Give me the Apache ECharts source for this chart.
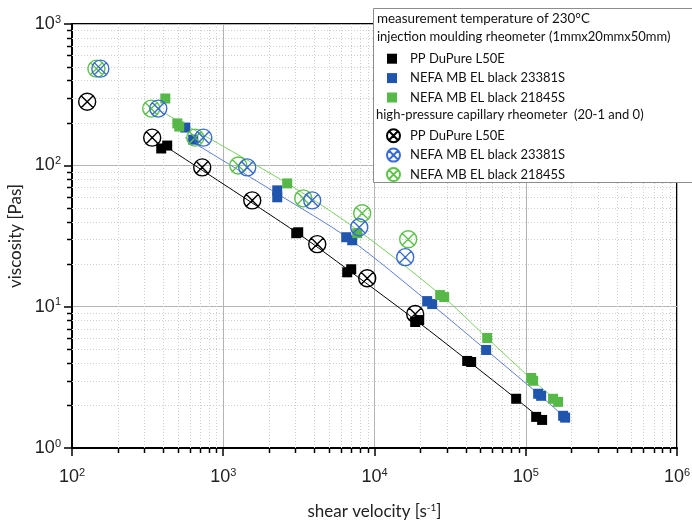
<!DOCTYPE html>
<html>
<head>
<meta charset="utf-8">
<script src="https://cdn.jsdelivr.net/npm/echarts@6/dist/echarts.min.js"></script>
<style>
html, body { margin: 0; padding: 0; background: #fff; }
#chart { width: 692px; height: 523px; }
</style>
</head>
<body>
<div id="chart"></div>
<script>
// ---------------------------------------------------------------- data
// injection moulding rheometer (squares): [shear velocity, viscosity]
var imPP = [[389, 131.6], [426, 138], [3037, 33.1], [3131, 33.6], [6600, 17.5], [7015, 18.4],
    [18580, 7.79], [19750, 8.04], [41000, 4.13], [43560, 4.06], [86430, 2.23], [117200, 1.66], [128300, 1.58]];
var imBlue = [[561, 185], [633, 152], [2275, 66.5], [2275, 59.4], [6501, 31.0], [7122, 29.5],
    [22300, 10.95], [24060, 10.43], [54710, 4.94], [120800, 2.42], [126400, 2.34], [176700, 1.69], [182100, 1.64]];
var imGreen = [[414, 297], [497, 198], [512, 188], [2648, 74.5], [7688, 33.1], [27180, 12.08],
    [28880, 11.69], [55590, 6.00], [108600, 3.13], [111900, 2.99], [151700, 2.23], [163700, 2.12]];

// high-pressure capillary rheometer (crossed circles)
var hpPP = [[126, 282], [339, 157], [726, 96.7], [1555, 56.5], [4182, 27.7], [8950, 15.9], [18580, 8.87]];
var hpBlue = [[154, 483], [372, 252], [738, 157], [1441, 96.7], [3874, 56.5], [7925, 36.5], [15960, 22.4]];
var hpGreen = [[145, 483], [334, 252], [653, 157], [1257, 99.8], [3379, 58.4], [8291, 45.8], [16700, 30.0]];

// fit curves
var fitPP = [[426, 133.8], [3080, 33.3], [6800, 18.0], [19100, 7.9], [42000, 4.1], [86400, 2.23], [128300, 1.58]];
var fitBlue = [[561, 157], [2275, 63], [6800, 30.2], [23000, 10.7], [54700, 4.94], [123000, 2.38], [182100, 1.64]];
var fitGreen = [[414, 232], [2648, 74.5], [7688, 35], [28000, 11.9], [55590, 6.0], [110000, 3.05], [163700, 2.12]];

var seriesNames = ['PP DuPure L50E', 'NEFA MB EL black 23381S', 'NEFA MB EL black 21845S'];
var headings = ['measurement temperature of 230°C', 'injection moulding rheometer (1mmx20mmx50mm)',
    'high-pressure capillary rheometer  (20-1 and 0)'];

// minor grid positions (2..9 per decade)
var minorMult = [2, 3, 4, 5, 6, 7, 8, 9];
var xDecades = [100, 1000, 10000, 100000];
var yDecades = [1, 10, 100];

// ---------------------------------------------------------------- style
var cBlack = '#000000';
var cBlueSq = '#1f55ad';
var cGreenSq = '#56b947';
var cBlueCr = '#3a6bd4';
var cGreenCr = '#5dc24a';
var cBlueFit = '#5c7fd6';
var cGreenFit = '#7dd063';
var crossPath = 'path://M10,1 A9,9 0 1,1 9.99,1 Z M3.6,3.6 L16.4,16.4 M16.4,3.6 L3.6,16.4';
var labelFont = 'Liberation Sans';
var textFont = 'Lato';

var xMinor = [];
xDecades.forEach(function (d) { minorMult.forEach(function (m) { xMinor.push([d * m, 1]); }); });
var yMinor = [];
yDecades.forEach(function (d) { minorMult.forEach(function (m) { yMinor.push([100, d * m]); }); });

function supLabel(v) {
    return '10{sup|' + Math.round(Math.log10(v)) + '}';
}

function minorX(params, api) {
    var cs = params.coordSys;
    var x = Math.round(api.coord([api.value(0), 1])[0]) + 0.5;
    var bottom = cs.y + cs.height;
    return {
        type: 'group',
        children: [
            { type: 'line', shape: { x1: x, y1: cs.y, x2: x, y2: bottom },
              style: { stroke: '#cfcfcf', lineWidth: 1, lineDash: [1, 2] } },
            { type: 'line', shape: { x1: x, y1: bottom, x2: x, y2: bottom + 5 },
              style: { stroke: '#000', lineWidth: 1.5 } }
        ]
    };
}

function minorY(params, api) {
    var cs = params.coordSys;
    var y = Math.round(api.coord([100, api.value(1)])[1]) + 0.5;
    return {
        type: 'group',
        children: [
            { type: 'line', shape: { x1: cs.x, y1: y, x2: cs.x + cs.width, y2: y },
              style: { stroke: '#cfcfcf', lineWidth: 1, lineDash: [1, 2] } },
            { type: 'line', shape: { x1: cs.x - 5, y1: y, x2: cs.x, y2: y },
              style: { stroke: '#000', lineWidth: 1.5 } }
        ]
    };
}

function squares(name, data, color) {
    return {
        name: 'im:' + name, type: 'scatter', data: data, symbol: 'rect', symbolSize: 10,
        itemStyle: { color: color, opacity: 1 }, z: 4
    };
}

function crossed(name, data, color, z) {
    return {
        name: 'hp:' + name, type: 'scatter', data: data, symbol: crossPath, symbolSize: 17,
        itemStyle: { color: 'rgba(0,0,0,0)', borderColor: color, borderWidth: 1.4, opacity: 1 }, z: z
    };
}

function fit(data, color) {
    return {
        type: 'line', data: data, smooth: 0.3, symbol: 'none', silent: true,
        lineStyle: { color: color, width: 1 }, z: 3
    };
}

// ---------------------------------------------------------------- chart
var chart = echarts.init(document.getElementById('chart'));

var option = {
    backgroundColor: '#fff',
    animation: false,
    grid: {
        left: 72, right: 15, top: 24, bottom: 75, show: true, borderColor: '#000', borderWidth: 2,
        containLabel: false, outerBoundsMode: 'none'
    },
    xAxis: {
        type: 'log', logBase: 10, min: 100, max: 1000000,
        name: 'shear velocity [s{sup|-1}]', nameLocation: 'middle', nameGap: 55,
        nameTextStyle: { fontFamily: textFont, fontSize: 17, color: '#222',
            rich: { sup: { fontFamily: textFont, fontSize: 10, verticalAlign: 'top', padding: [0, 0, 8, 0] } } },
        axisLine: { lineStyle: { color: '#000', width: 2 } },
        axisTick: { show: true, length: 8, lineStyle: { color: '#000', width: 1.5 } },
        axisLabel: {
            margin: 19, color: '#222', fontFamily: labelFont, fontSize: 18, formatter: supLabel,
            rich: { sup: { fontFamily: labelFont, fontSize: 11, verticalAlign: 'top', padding: [0, 0, 9, 0] } }
        },
        splitLine: { show: true, lineStyle: { color: '#b4b4b4', width: 1 } }
    },
    yAxis: {
        type: 'log', logBase: 10, min: 1, max: 1000,
        name: 'viscosity [Pas]', nameLocation: 'middle', nameGap: 46,
        nameTextStyle: { fontFamily: textFont, fontSize: 17, color: '#222' },
        axisLine: { lineStyle: { color: '#000', width: 2 } },
        axisTick: { show: true, length: 8, lineStyle: { color: '#000', width: 1.5 } },
        axisLabel: {
            margin: 11, color: '#222', fontFamily: labelFont, fontSize: 18, formatter: supLabel,
            rich: { sup: { fontFamily: labelFont, fontSize: 11, verticalAlign: 'top', padding: [0, 0, 9, 0] } }
        },
        splitLine: { show: true, lineStyle: { color: '#b4b4b4', width: 1 } }
    },
    legend: [{
        orient: 'vertical', left: 387, top: 49, padding: 0, itemGap: 0,
        itemWidth: 10, itemHeight: 10, selectedMode: false,
        data: seriesNames.map(function (n) { return 'im:' + n; }),
        formatter: function (n) { return n.split(':')[1]; },
        textStyle: { fontFamily: textFont, fontSize: 13, color: '#111', lineHeight: 19.4, padding: [0, 0, 0, 8] },
        z: 6
    }, {
        orient: 'vertical', left: 386, top: 126, padding: 0, itemGap: 0,
        itemWidth: 13, itemHeight: 13, selectedMode: false,
        data: seriesNames.map(function (n) { return 'hp:' + n; }),
        formatter: function (n) { return n.split(':')[1]; },
        textStyle: { fontFamily: textFont, fontSize: 13, color: '#111', lineHeight: 19.4, padding: [0, 0, 0, 5] },
        z: 6
    }],
    graphic: [
        { type: 'rect', left: 373, top: 8, z: 5, shape: { width: 340, height: 174 },
          style: { fill: '#fff', stroke: '#8c8c8c', lineWidth: 1 } },
        { type: 'text', left: 377, top: 12, z: 6,
          style: { text: headings[0], font: '13.4px ' + textFont, fill: '#111' } },
        { type: 'text', left: 377, top: 30, z: 6,
          style: { text: headings[1], font: '13px ' + textFont, fill: '#111' } },
        { type: 'text', left: 376, top: 108, z: 6,
          style: { text: headings[2], font: '13px ' + textFont, fill: '#111' } }
    ],
    series: [
        { type: 'custom', renderItem: minorX, data: xMinor, silent: true, z: 1 },
        { type: 'custom', renderItem: minorY, data: yMinor, silent: true, z: 1 },
        fit(fitPP, cBlack),
        fit(fitBlue, cBlueFit),
        fit(fitGreen, cGreenFit),
        squares(seriesNames[0], imPP, cBlack),
        squares(seriesNames[1], imBlue, cBlueSq),
        squares(seriesNames[2], imGreen, cGreenSq),
        crossed(seriesNames[0], hpPP, cBlack, 5),
        crossed(seriesNames[1], hpBlue, cBlueCr, 5),
        crossed(seriesNames[2], hpGreen, cGreenCr, 4)
    ]
};

chart.setOption(option);
</script>
</body>
</html>
